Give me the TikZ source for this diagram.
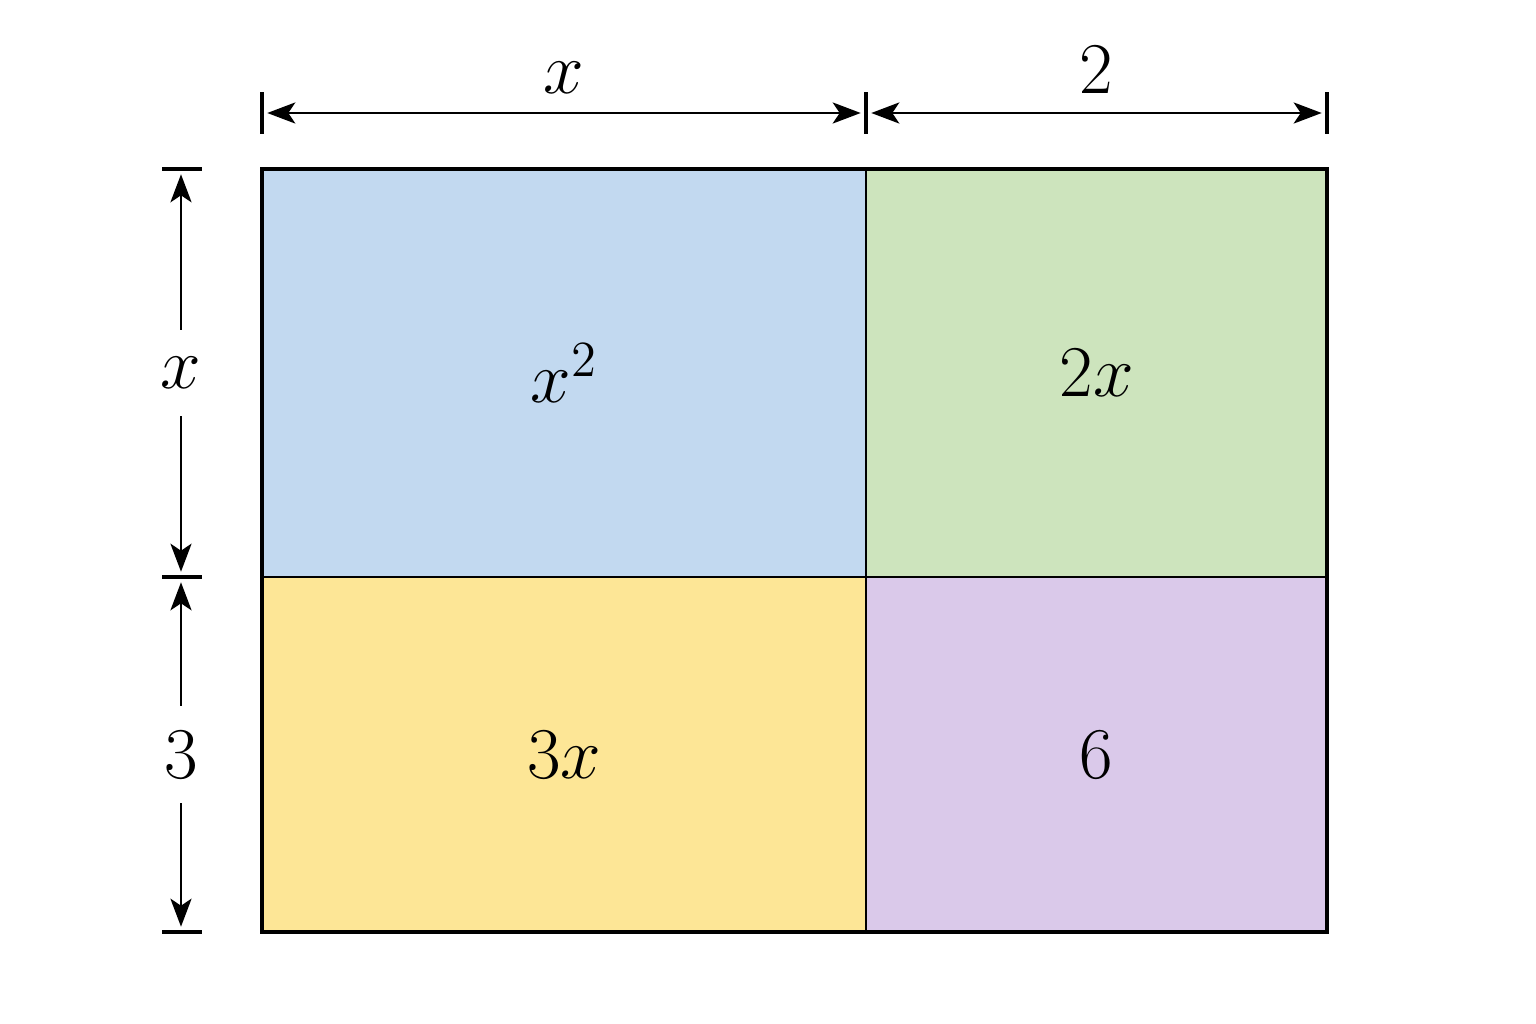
\documentclass[tikz,border=0pt]{standalone}
\usepackage{amsmath}
\usepackage{xcolor}
\usepackage{tikz}
\usetikzlibrary{arrows.meta, positioning}

\definecolor{sqblue}{RGB}{194,217,240}
\definecolor{sqgreen}{RGB}{205,228,189}
\definecolor{sqyellow}{RGB}{253,230,150}
\definecolor{sqpurple}{RGB}{218,201,234}

\begin{document}
\begin{tikzpicture}[x=0.01cm,y=-0.01cm,>={Stealth[length=2.8mm,width=2.1mm,inset=0.7mm]},
        font=\fontsize{22}{26}\selectfont,
        cell/.style={draw=black,line width=0.8pt,inner sep=0pt,outer sep=0pt,anchor=north west},
        dimline/.style={line width=0.85pt},
        tick/.style={line width=1pt}]

      \useasboundingbox (0,0) rectangle (1536,1024);

      % the four parts
      \node[cell,fill=sqblue,minimum width=6.04cm,minimum height=4.08cm]   (xsq) at (262,169) {$x^2$};
      \node[cell,fill=sqgreen,minimum width=4.61cm,minimum height=4.08cm]  (twox) at (866,169) {$2x$};
      \node[cell,fill=sqyellow,minimum width=6.04cm,minimum height=3.55cm] (threex) at (262,577) {$3x$};
      \node[cell,fill=sqpurple,minimum width=4.61cm,minimum height=3.55cm] (six) at (866,577) {$6$};
      \draw[line width=1.2pt] (xsq.north west) rectangle (six.south east);

      % top dimensions
      \coordinate (t1) at (262,113);
      \coordinate (t2) at (866,113);
      \coordinate (t3) at (1327,113);
      \foreach \t in {t1,t2,t3}
        \draw[tick] (\t) +(0,-21) -- +(0,21);
      \draw[dimline,<->,shorten <=1.5pt,shorten >=1.5pt] (t1) -- (t2) node[midway,above=0.14cm,inner sep=1pt] {$x$};
      \draw[dimline,<->,shorten <=1.5pt,shorten >=1.5pt] (t2) -- (t3) node[midway,above=0.14cm,inner sep=1pt] {$2$};

      % left dimensions
      \coordinate (l1) at (181,169);
      \coordinate (l2) at (181,577);
      \coordinate (l3) at (181,932);
      \foreach \l in {l1,l2,l3}
        \draw[tick] (\l) +(-19,0) -- +(21,0);
      \draw[dimline,<->,shorten <=1.5pt,shorten >=1.5pt] (l1) -- (l2) node[midway,fill=white,inner xsep=2pt,inner ysep=0.27cm] {$x$};
      \draw[dimline,<->,shorten <=1.5pt,shorten >=1.5pt] (l2) -- (l3) node[midway,fill=white,inner xsep=2pt,inner ysep=0.25cm] {$3$};
    \end{tikzpicture}
\end{document}
